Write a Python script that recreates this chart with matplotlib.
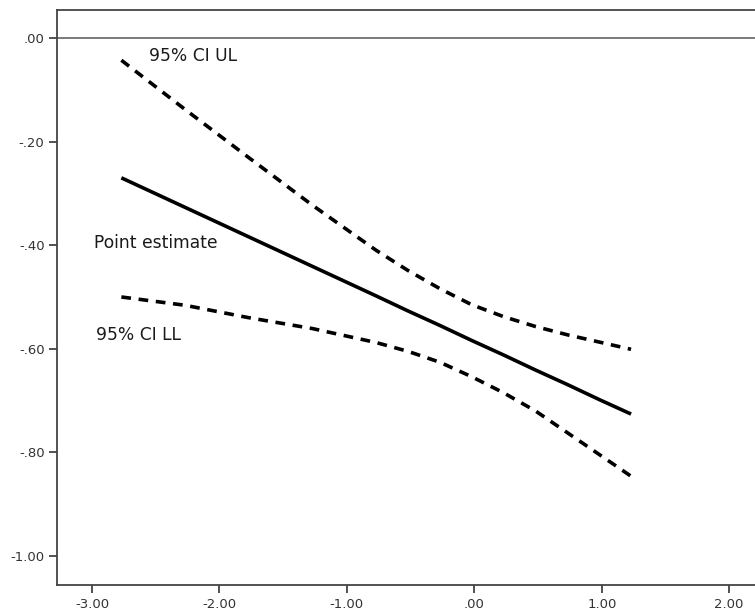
import matplotlib
matplotlib.use("Agg")
import matplotlib.pyplot as plt
from matplotlib.ticker import FuncFormatter

# moderator values (x) and conditional effect with 95% CI bounds
x_vals = [-2.77, -2.27, -1.77, -1.27, -0.77, -0.52, -0.27, -0.02, 0.23, 0.48, 0.73, 0.98, 1.23]
point_est = [-0.270, -0.327, -0.384, -0.441, -0.498, -0.527, -0.555, -0.584,
             -0.612, -0.641, -0.669, -0.698, -0.726]
ci_ul = [-0.043, -0.138, -0.231, -0.323, -0.410, -0.449, -0.484, -0.515,
         -0.538, -0.557, -0.573, -0.587, -0.601]
ci_ll = [-0.500, -0.516, -0.540, -0.561, -0.588, -0.605, -0.626, -0.654,
         -0.685, -0.720, -0.762, -0.804, -0.846]

x_ticks = [-3, -2, -1, 0, 1, 2]
y_ticks = [0, -0.2, -0.4, -0.6, -0.8, -1.0]


def spss_fmt(v, pos):
    # SPSS style: ".00", "-.20", "-1.00"
    s = f"{v:.2f}"
    if s in ("-0.00", "0.00"):
        return ".00"
    return s.replace("0.", ".", 1) if abs(v) < 1 else s


plt.rcParams['lines.scale_dashes'] = False
plt.rcParams['font.family'] = ['DejaVu Sans']

fig = plt.figure(figsize=(7.55, 6.16), dpi=100)
ax = fig.add_axes([0.0755, 0.0503, 0.9325, 0.9335])

ax.axhline(0, color='#555555', linewidth=1.1, zorder=1)

ax.plot(x_vals, point_est, color='black', linewidth=2.6, solid_capstyle='butt')
ax.plot(x_vals, ci_ul, color='black', linewidth=2.6, dashes=(7, 5.5))
ax.plot(x_vals, ci_ll, color='black', linewidth=2.6, dashes=(7, 5.5))

ax.text(-2.55, -0.035, "95% CI UL", fontsize=12.3, va='center', ha='left', color='#1a1a1a')
ax.text(-2.985, -0.396, "Point estimate", fontsize=12.3, va='center', ha='left', color='#1a1a1a')
ax.text(-2.97, -0.574, "95% CI LL", fontsize=12.3, va='center', ha='left', color='#1a1a1a')

ax.set_xlim(-3.275, 2.25)
ax.set_ylim(-1.056, 0.054)
ax.set_xticks(x_ticks)
ax.set_yticks(y_ticks)
ax.xaxis.set_major_formatter(FuncFormatter(spss_fmt))
ax.yaxis.set_major_formatter(FuncFormatter(spss_fmt))
ax.tick_params(axis='both', direction='out', length=5.5, width=1.2, labelsize=9.5,
               colors='#333333')

for sp in ax.spines.values():
    sp.set_linewidth(1.3)
    sp.set_color('#444444')

fig.savefig('out.png', dpi=100)
